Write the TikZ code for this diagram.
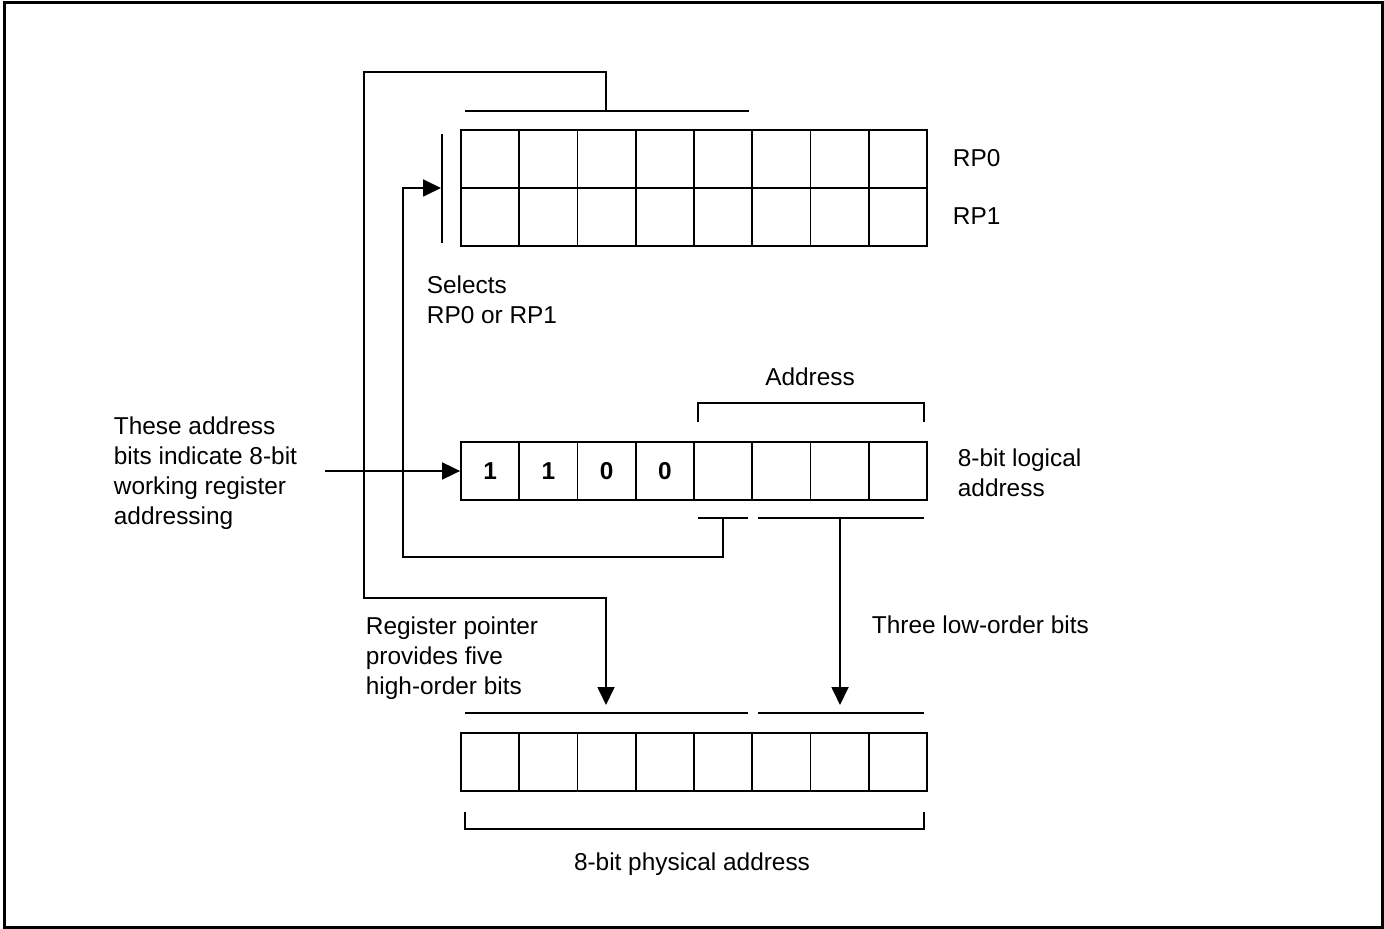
\documentclass[tikz,border=0pt]{standalone}
\usepackage{fontspec}
\setmainfont{Liberation Sans}
\usetikzlibrary{arrows.meta, positioning, calc}

\tikzset{
  bitbox/.style={draw, minimum width=29.125pt, minimum height=29pt, inner sep=0pt,
    font=\fontsize{12.2}{15}\selectfont\bfseries},
  lbl/.style={anchor=base west, align=left, inner sep=0pt},
  ptr/.style={-{Triangle[length=9pt, width=8.5pt]}},
}

\begin{document}
\begin{tikzpicture}[x=0.5pt, y=-0.5pt, line width=0.9pt,
  every node/.style={font=\fontsize{12.2}{15}\selectfont}]
  \useasboundingbox (0,0) rectangle (1384,929);
  \draw[line width=1.5pt] (4,3) rectangle (1382,927);

  % register pointers RP0 / RP1
  \foreach \i in {0,...,7} {
    \node[bitbox] (rpa\i) at ({490.125+58.25*\i}, 159) {};
    \node[bitbox] (rpb\i) at ({490.125+58.25*\i}, 217) {};
  }
  \node[lbl] (rp0) at (952,167) {RP0};
  \node[lbl] (rp1) at (952,225) {RP1};

  % 8-bit logical address
  \foreach \i/\b in {0/1, 1/1, 2/0, 3/0, 4/, 5/, 6/, 7/} {
    \node[bitbox] (la\i) at ({490.125+58.25*\i}, 471) {\b};
  }
  \node[lbl] (logical) at (957,496) {8-bit logical\\address};

  % 8-bit physical address
  \foreach \i in {0,...,7} {
    \node[bitbox] (pa\i) at ({490.125+58.25*\i}, 762) {};
  }
  \node[anchor=base] (physical) at (692,870) {8-bit physical address};

  % bars and brackets
  \coordinate (hiL) at (465,111);
  \coordinate (hiR) at (749,111);
  \coordinate (rptap) at (606,111);
  \coordinate (selT) at (442,134);
  \coordinate (selB) at (442,243);
  \coordinate (selin) at (441,188);
  \draw (hiL) -- (hiR);
  \draw (selT) -- (selB);

  \draw (698,422) -- (698,403) -- (924,403) -- (924,422);
  \node[anchor=base] (addr) at (810,386) {Address};

  \coordinate (lotap) at (723,518);
  \coordinate (lowtap) at (840,518);
  \draw (698,518) -- (748,518);
  \draw (758,518) -- (924,518);

  \coordinate (hitip) at (606,705);
  \coordinate (lowtip) at (840,705);
  \draw (465,713) -- (748,713);
  \draw (758,713) -- (924,713);
  \draw (465,812) -- (465,829) -- (924,829) -- (924,812);

  % connectors
  \coordinate (rpbend) at (364,72);
  \coordinate (loopdn) at (364,598);
  \draw[ptr] (rptap) |- (rpbend) -- (loopdn) -| (hitip);
  \draw[ptr] (lotap) -- (723,557) -| (403,188) -- (selin);
  \draw[ptr] (lowtap) -- (lowtip);

  \coordinate (instart) at (325,471);
  \draw[ptr] (instart) -- (la0.west);

  % labels
  \node[lbl] (sel) at (426,324) {Selects\\RP0 or RP1};
  \node[lbl] (these) at (113,524) {These address\\bits indicate 8-bit\\working register\\addressing};
  \node[lbl] (regptr) at (365,694) {Register pointer\\provides five\\high-order bits};
  \node[lbl] (three) at (871,633) {Three low-order bits};
\end{tikzpicture}
\end{document}
